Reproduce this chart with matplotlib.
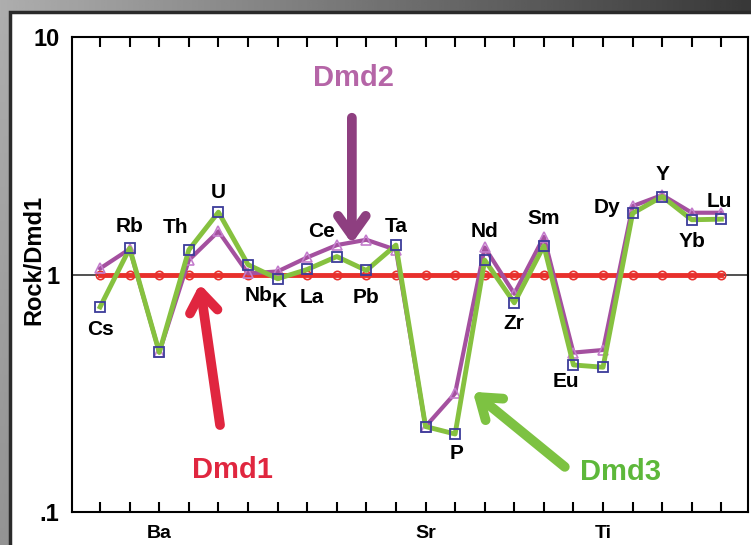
import numpy as np
import matplotlib.pyplot as plt
from matplotlib.patches import Rectangle

plt.rcParams['font.family'] = ['Liberation Sans', 'DejaVu Sans']
plt.rcParams['font.weight'] = 'bold'

# elements along the x axis (spider diagram order)
elements = ['Cs', 'Rb', 'Ba', 'Th', 'U', 'Nb', 'K', 'La', 'Ce', 'Pb', 'Ta',
            'Sr', 'P', 'Nd', 'Zr', 'Sm', 'Eu', 'Ti', 'Dy', 'Y', 'Yb', 'Lu']

# rock / Dmd1 ratios
dmd1 = [1.0] * len(elements)
dmd2 = [1.06, 1.28, 0.47, 1.15, 1.52, 1.01, 1.03, 1.18, 1.33, 1.40, 1.27,
        0.229, 0.316, 1.30, 0.83, 1.44, 0.469, 0.481, 1.94, 2.16, 1.82, 1.82]
dmd3 = [0.73, 1.29, 0.47, 1.27, 1.83, 1.10, 0.96, 1.05, 1.19, 1.04, 1.33,
        0.229, 0.213, 1.15, 0.76, 1.32, 0.416, 0.407, 1.81, 2.13, 1.70, 1.71]

axis_elements = ['Ba', 'Sr', 'Ti']
ytick_vals = [0.1, 1, 10]
ytick_text = ['.1', '1', '10']

# where each element name sits relative to its Dmd3 point (pixels)
label_offsets = {
    'Cs': (0, -23), 'Rb': (0, 22), 'Th': (-13, 22), 'U': (0, 20),
    'Nb': (11, -31), 'K': (2, -23), 'La': (5, -28), 'Ce': (-15, 25),
    'Pb': (0, -27), 'Ta': (0, 19), 'P': (1, -19), 'Nd': (0, 29),
    'Zr': (0, -21), 'Sm': (0, 27), 'Eu': (-8, -17), 'Dy': (-26, 6),
    'Y': (0, 22), 'Yb': (0, -22), 'Lu': (-2, 18),
}

fig = plt.figure(figsize=(7.51, 5.45), dpi=100)

# dark gradient frame + white panel
bg = fig.add_axes([0, 0, 1, 1], zorder=-10)
grad = np.linspace(0.68, 0.22, 256)[None, :] * np.ones((16, 1))
grad = grad + np.linspace(0.0, -0.1, 16)[:, None]
bg.imshow(grad, extent=[0, 1, 0, 1], aspect='auto', cmap='gray', vmin=0, vmax=1)
bg.add_patch(Rectangle((10 / 751, -0.01), 1.0, 1.01 - 12 / 545, facecolor='white',
                       edgecolor='#2a2a2a', lw=2.5, transform=bg.transAxes))
bg.set_xlim(0, 1)
bg.set_ylim(0, 1)
bg.axis('off')

ax = fig.add_axes([72 / 751, 33 / 545, 676 / 751, 475 / 545])
ax.set_facecolor('none')
x = np.arange(len(elements))

ax.axhline(1, color='#333333', lw=1.2, zorder=1)
ax.plot(x, dmd1, color='#e8302c', lw=3.5, marker='o', ms=6, mfc='none',
        mec='#e8302c', mew=1.2, zorder=2)
ax.plot(x, dmd2, color='#a4509f', lw=3, marker='^', ms=7, mfc='none',
        mec='#c47ccc', mew=1.2, zorder=3)
ax.plot(x, dmd3, color='#86c13f', lw=3.5, zorder=4)
ax.plot(x, dmd3, ls='none', marker='s', ms=7, mfc='none', mec='#3c3c9a',
        mew=1.3, zorder=5)

ax.set_yscale('log')
ax.set_ylim(0.1, 10)
ax.set_xlim(-0.95, 21.9)
ax.set_yticks(ytick_vals)
ax.set_yticklabels(ytick_text, fontsize=17, fontweight='bold')
ax.yaxis.set_minor_locator(plt.NullLocator())
ax.tick_params(axis='y', length=0, pad=9)
ax.set_xticks(x)
ax.set_xticklabels([e if e in axis_elements else '' for e in elements],
                   fontsize=14, fontweight='bold')
ax.tick_params(axis='x', direction='in', top=True, length=7, width=1.5, pad=9)
for s in ax.spines.values():
    s.set_linewidth(1.5)
ax.set_ylabel('Rock/Dmd1', fontsize=17, fontweight='bold')
ax.yaxis.set_label_coords(-0.039, 0.53)

for i, e in enumerate(elements):
    if e in label_offsets:
        ax.annotate(e, (i, dmd3[i]), xytext=label_offsets[e],
                    textcoords='offset pixels', ha='center', va='center',
                    fontsize=15, fontweight='bold', zorder=6)

# arrows pointing at each series
def arrow(tail, tip, color):
    ax.annotate('', xy=tip, xytext=tail, xycoords='axes fraction',
                textcoords='axes fraction',
                arrowprops=dict(arrowstyle='->,head_length=1.4,head_width=1.0',
                                color=color, lw=7, shrinkA=0, shrinkB=0),
                zorder=7)

arrow((0.414, 0.830), (0.414, 0.565), '#8e3f80')
arrow((0.219, 0.183), (0.189, 0.480), '#e0263f')
arrow((0.729, 0.095), (0.593, 0.253), '#7dc242')

ax.text(0.417, 0.914, 'Dmd2', transform=ax.transAxes, ha='center', va='center',
        fontsize=21, fontweight='bold', color='#b565a7')
ax.text(0.237, 0.088, 'Dmd1', transform=ax.transAxes, ha='center', va='center',
        fontsize=21, fontweight='bold', color='#e0263f')
ax.text(0.811, 0.084, 'Dmd3', transform=ax.transAxes, ha='center', va='center',
        fontsize=21, fontweight='bold', color='#5db83a')

fig.savefig('out.png', dpi=100)
